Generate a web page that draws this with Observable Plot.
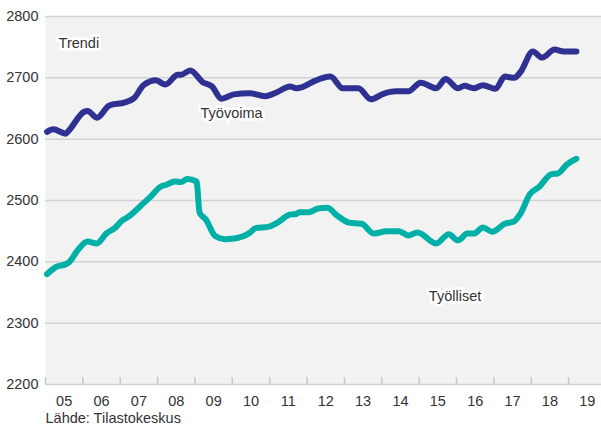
<!DOCTYPE html>
<html>
<head>
<meta charset="utf-8">
<script src="https://cdn.jsdelivr.net/npm/d3@7"></script>
<script src="https://cdn.jsdelivr.net/npm/@observablehq/plot@0.6"></script>
<style>
  body { margin: 0; background: #fff; }
</style>
</head>
<body>
<div id="chart"></div>
<script>
// Työvoima (labour force), trend, thousands
const voimaMonths = ["2005-01","2005-03","2005-07","2005-08","2006-01","2006-02","2006-05","2006-09","2007-02","2007-05","2007-08","2007-12","2008-03","2008-07","2008-08","2008-11","2009-03","2009-06","2009-09","2010-01","2010-06","2010-11","2011-03","2011-07","2011-09","2011-11","2012-03","2012-08","2012-12","2013-05","2013-09","2014-01","2014-05","2014-09","2015-01","2015-06","2015-09","2016-01","2016-03","2016-06","2016-09","2017-01","2017-04","2017-07","2017-09","2018-01","2018-04","2018-08","2018-11","2019-03"];
const voimaValues = [2612,2616,2609,2614,2645,2646,2635,2655,2660,2667,2688,2696,2689,2705,2705,2712,2693,2686,2666,2673,2675,2670,2677,2686,2683,2685,2695,2702,2683,2683,2665,2674,2678,2678,2692,2683,2698,2683,2687,2683,2688,2682,2702,2700,2709,2743,2733,2746,2743,2743];

// Työlliset (employed), trend, thousands
const tyolMonths = ["2005-01","2005-04","2005-07","2005-08","2005-11","2006-02","2006-05","2006-08","2006-11","2007-01","2007-03","2007-07","2007-10","2008-02","2008-03","2008-06","2008-08","2008-10","2009-01","2009-02","2009-04","2009-07","2009-10","2010-01","2010-06","2010-08","2010-12","2011-03","2011-07","2011-09","2011-10","2012-01","2012-04","2012-07","2012-10","2013-02","2013-06","2013-10","2014-02","2014-06","2014-09","2014-12","2015-06","2015-10","2016-01","2016-04","2016-06","2016-09","2016-12","2017-04","2017-07","2017-09","2017-12","2018-03","2018-07","2018-09","2018-12","2019-03"];
const tyolValues = [2380,2392,2396,2399,2420,2433,2430,2446,2456,2467,2473,2491,2505,2524,2525,2531,2530,2535,2531,2480,2469,2442,2437,2438,2447,2455,2457,2464,2477,2478,2481,2481,2487,2488,2476,2464,2462,2446,2450,2450,2443,2448,2430,2445,2435,2446,2446,2456,2449,2462,2466,2478,2510,2522,2543,2544,2559,2568];

const yTicks = [2200, 2300, 2400, 2500, 2600, 2700, 2800];
const tickYears = [2005,2006,2007,2008,2009,2010,2011,2012,2013,2014,2015,2016,2017,2018,2019];
const yearLabels = ["05","06","07","08","09","10","11","12","13","14","15","16","17","18","19"];

const seriesColors = ["#2e3192", "#00b0a6"];
const annoText = ["Trendi", "Työvoima", "Työlliset"];
const annoX = [2005.35, 2009.15, 2015.26];
const annoY = [2757, 2642, 2344];
const captionText = "Lähde: Tilastokeskus";

const toYear = s => { const [y, m] = s.split("-").map(Number); return y + (m - 0.5) / 12; };
const voima = voimaMonths.map((m, i) => ({t: toYear(m), v: voimaValues[i]}));
const tyol = tyolMonths.map((m, i) => ({t: toYear(m), v: tyolValues[i]}));
const labelPos = tickYears.map(y => y + 0.5);
const annos = annoText.map((s, i) => ({s, x: annoX[i], y: annoY[i]}));

const font = '"Liberation Sans", Arial, sans-serif';

const chart = Plot.plot({
  width: 601,
  height: 432,
  marginLeft: 45,
  marginRight: 0,
  marginTop: 16,
  marginBottom: 48,
  style: {fontFamily: font, fontSize: "14.5px", color: "#333", background: "#fff"},
  x: {type: "linear", domain: [2005, 2019.88]},
  y: {domain: [2200, 2800]},
  marks: [
    Plot.frame({fill: "#f2f2f2", stroke: null}),
    Plot.ruleY(yTicks, {stroke: "#d2d2d2", strokeWidth: 1.5}),
    Plot.ruleX(tickYears, {x: d => d, insetTop: 361, stroke: "#c8c8c8", strokeWidth: 1.5}),
    Plot.axisY({ticks: yTicks, tickSize: 0, tickPadding: 7, label: null, tickFormat: d => String(d), fontSize: 14.5}),
    Plot.axisX({ticks: labelPos, tickSize: 0, tickPadding: 11, label: null, tickFormat: (d, i) => yearLabels[i], fontSize: 14.5}),
    Plot.line(voima, {x: "t", y: "v", stroke: seriesColors[0], strokeWidth: 6, curve: "monotone-x", strokeLinejoin: "round"}),
    Plot.line(tyol, {x: "t", y: "v", stroke: seriesColors[1], strokeWidth: 6, curve: "monotone-x", strokeLinejoin: "round"}),
    Plot.text(annos, {x: "x", y: "y", text: "s", textAnchor: "start", fill: "#333", stroke: "#fff", strokeWidth: 5, strokeLinejoin: "miter", fontSize: 14.5}),
    Plot.text([captionText], {frameAnchor: "bottom-left", dy: 38, textAnchor: "start", fill: "#333", fontSize: 14.5})
  ]
});
document.getElementById("chart").appendChild(chart);
</script>
</body>
</html>
